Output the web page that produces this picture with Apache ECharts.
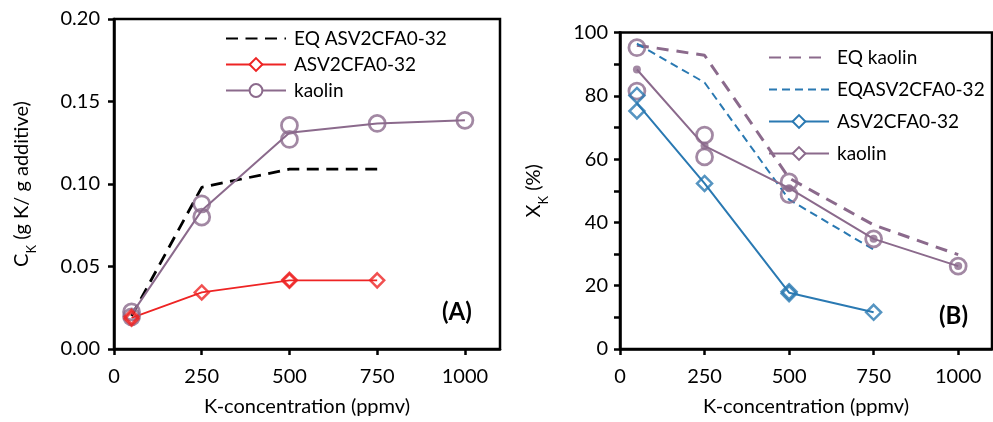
<!DOCTYPE html>
<html><head><meta charset="utf-8">
<script src="https://cdn.jsdelivr.net/npm/echarts@6/dist/echarts.min.js"></script>
<style>html,body{margin:0;padding:0;background:#fff}#c{width:993px;height:422px}</style>
</head><body><div id="c"></div>
<script>
// ---- data ----
const xTickValues = [0, 250, 500, 750, 1000];
const conc = [50, 250, 500, 750, 1000];
// Panel A: C_K (g K / g additive)
const eqAsvA = [0.020, 0.098, 0.109, 0.109];
const asvMeanA = [0.0189, 0.0343, 0.0416, 0.0416];
const asvRepA = [[50, 0.0195], [50, 0.0183], [250, 0.0343], [500, 0.0419], [500, 0.0413], [750, 0.0416]];
const kaoMeanA = [0.021, 0.084, 0.131, 0.1367, 0.1386];
const kaoRepA = [[50, 0.0225], [50, 0.0195], [250, 0.088], [250, 0.080], [500, 0.1355], [500, 0.127], [750, 0.1367], [1000, 0.1386]];
// Panel B: X_K (%)
const eqKaoB = [96, 92.8, 54, 39.2, 29.8];
const eqAsvB = [96.5, 84.2, 47.2, 31.4];
const asvMeanB = [77.7, 52.3, 17.8, 11.6];
const asvRepB = [[50, 80.1], [50, 75.2], [250, 52.3], [500, 18.1], [500, 17.5], [750, 11.6]];
const kaoMeanB = [88.3, 64.2, 50.8, 34.8, 26.2];
const kaoRepB = [[50, 95.2], [50, 81.5], [250, 67.6], [250, 60.7], [500, 52.8], [500, 48.8], [750, 34.8], [1000, 26.2]];
const yTicksB = [0, 10, 20, 30, 40, 50, 60, 70, 80, 90, 100];
const yLabelsB = [0, 20, 40, 60, 80, 100];

const FONT = 'Lato';
const RED = '#ee2424', PURPLE = '#8b6a8c', BLUE = '#2a79b2';
const pair = arr => arr.map((v, i) => [conc[i], v]);

const chart = echarts.init(document.getElementById('c'), null, {renderer: 'canvas'});

const axisCommon = {
  axisLine: {show: true, onZero: false, lineStyle: {color: '#000', width: 2.5}},
  axisTick: {show: true, inside: false, length: 6, lineStyle: {color: '#000', width: 2.5}},
  splitLine: {show: false},
  axisLabel: {color: '#000', fontFamily: FONT, fontSize: 20},
  nameTextStyle: {color: '#000', fontFamily: FONT, fontSize: 20}
};
function xAxis(gi) {
  return Object.assign({}, axisCommon, {
    type: 'value', gridIndex: gi, min: 0, max: 1100,
    name: 'K-concentration (ppmv)', nameLocation: 'middle', nameGap: 48,
    axisTick: Object.assign({}, axisCommon.axisTick, {customValues: xTickValues}),
    axisLabel: Object.assign({}, axisCommon.axisLabel, {customValues: xTickValues, margin: 18, formatter: v => String(v)})
  });
}
const richName = {
  m: {fontFamily: FONT, fontSize: 20, color: '#000', lineHeight: 22, verticalAlign: 'top'},
  s: {fontFamily: FONT, fontSize: 13, color: '#000', lineHeight: 26, verticalAlign: 'bottom'}
};

const option = {
  animation: false,
  backgroundColor: '#fff',
  grid: [
    {left: 114, top: 19, width: 386, height: 332, show: true, borderColor: '#000', borderWidth: 2.5, containLabel: false},
    {left: 620, top: 32.5, width: 372, height: 319.5, show: true, borderColor: '#000', borderWidth: 2.5, containLabel: false}
  ],
  xAxis: [xAxis(0), xAxis(1)],
  yAxis: [
    Object.assign({}, axisCommon, {
      type: 'value', gridIndex: 0, min: 0, max: 0.2, interval: 0.05,
      name: '{m|C}{s|K}{m| (g K/ g additive)}', nameLocation: 'middle', nameGap: 76,
      nameTextStyle: {rich: richName},
      axisLabel: Object.assign({}, axisCommon.axisLabel, {margin: 14, formatter: v => v.toFixed(2)})
    }),
    Object.assign({}, axisCommon, {
      type: 'value', gridIndex: 1, min: 0, max: 100, interval: 20,
      name: '{m|X}{s|K}{m| (%)}', nameLocation: 'middle', nameGap: 70,
      nameTextStyle: {rich: richName},
      axisTick: Object.assign({}, axisCommon.axisTick, {customValues: yTicksB}),
      axisLabel: Object.assign({}, axisCommon.axisLabel, {margin: 12, customValues: yLabelsB})
    })
  ],
  title: [
    {text: '(A)', left: 442, top: 300, padding: 0, textStyle: {fontFamily: FONT, fontSize: 24, fontWeight: 'bold', color: '#000'}},
    {text: '(B)', left: 939, top: 304, padding: 0, textStyle: {fontFamily: FONT, fontSize: 24, fontWeight: 'bold', color: '#000'}}
  ],
  legend: [
    {
      orient: 'vertical', left: 225, top: 29, padding: 0, itemWidth: 60, itemHeight: 16, itemGap: 7,
      textStyle: {fontFamily: FONT, fontSize: 19, color: '#000', padding: [0, 0, 0, 3]},
      selectedMode: false,
      data: [
        {name: 'EQ ASV2CFA0-32', itemStyle: {opacity: 0}},
        {name: 'ASV2CFA0-32'},
        {name: 'kaolin'}
      ]
    },
    {
      orient: 'vertical', left: 768, top: 48, padding: 0, itemWidth: 60, itemHeight: 16, itemGap: 13,
      textStyle: {fontFamily: FONT, fontSize: 19, color: '#000', padding: [0, 0, 0, 3]},
      selectedMode: false,
      formatter: n => n.replace(' (B)', ''),
      data: [
        {name: 'EQ kaolin', itemStyle: {opacity: 0}},
        {name: 'EQASV2CFA0-32', itemStyle: {opacity: 0}},
        {name: 'ASV2CFA0-32 (B)'},
        {name: 'kaolin (B)'}
      ]
    }
  ],
  series: [
    // Panel A
    {name: 'EQ ASV2CFA0-32', type: 'line', xAxisIndex: 0, yAxisIndex: 0, data: pair(eqAsvA),
     symbol: 'none', color: '#000', lineStyle: {color: '#000', width: 2.75, type: [12, 7.5]}, z: 2},
    {name: 'ASV2CFA0-32', type: 'line', xAxisIndex: 0, yAxisIndex: 0, data: pair(asvMeanA),
     symbol: 'emptyDiamond', showSymbol: false, color: RED, lineStyle: {color: RED, width: 1.75}, z: 3},
    {name: 'kaolin', type: 'line', xAxisIndex: 0, yAxisIndex: 0, data: pair(kaoMeanA),
     symbol: 'emptyCircle', showSymbol: false, color: PURPLE, lineStyle: {color: PURPLE, width: 2}, z: 3},
    {name: 'ASV2CFA0-32 pts', type: 'scatter', xAxisIndex: 0, yAxisIndex: 0, data: asvRepA,
     symbol: 'diamond', symbolSize: 14, itemStyle: {color: 'rgba(0,0,0,0)', borderColor: RED, borderWidth: 2.5}, z: 5},
    {name: 'kaolin pts', type: 'scatter', xAxisIndex: 0, yAxisIndex: 0, data: kaoRepA,
     symbol: 'circle', symbolSize: 16, itemStyle: {color: 'rgba(0,0,0,0)', borderColor: PURPLE, borderWidth: 2.75}, z: 4},
    // Panel B
    {name: 'EQ kaolin', type: 'line', xAxisIndex: 1, yAxisIndex: 1, data: pair(eqKaoB),
     symbol: 'none', color: PURPLE, lineStyle: {color: PURPLE, width: 3, type: [12, 8]}, z: 2},
    {name: 'EQASV2CFA0-32', type: 'line', xAxisIndex: 1, yAxisIndex: 1, data: pair(eqAsvB),
     symbol: 'none', color: BLUE, lineStyle: {color: BLUE, width: 2, type: [8, 5]}, z: 2},
    {name: 'ASV2CFA0-32 (B)', type: 'line', xAxisIndex: 1, yAxisIndex: 1, data: pair(asvMeanB),
     symbol: 'emptyDiamond', showSymbol: false, color: BLUE, lineStyle: {color: BLUE, width: 2}, z: 3},
    {name: 'kaolin (B)', type: 'line', xAxisIndex: 1, yAxisIndex: 1, data: pair(kaoMeanB),
     symbol: 'emptyDiamond', showSymbol: false, color: PURPLE, lineStyle: {color: PURPLE, width: 2}, z: 3},
    {name: 'kaolin (B) mean', type: 'scatter', xAxisIndex: 1, yAxisIndex: 1, data: pair(kaoMeanB),
     symbol: 'circle', symbolSize: 8, itemStyle: {color: PURPLE}, z: 3},
    {name: 'ASV2CFA0-32 (B) pts', type: 'scatter', xAxisIndex: 1, yAxisIndex: 1, data: asvRepB,
     symbol: 'diamond', symbolSize: 15, itemStyle: {color: 'rgba(0,0,0,0)', borderColor: BLUE, borderWidth: 2.5}, z: 5},
    {name: 'kaolin (B) pts', type: 'scatter', xAxisIndex: 1, yAxisIndex: 1, data: kaoRepB,
     symbol: 'circle', symbolSize: 16, itemStyle: {color: 'rgba(0,0,0,0)', borderColor: PURPLE, borderWidth: 2.75}, z: 4}
  ]
};
chart.setOption(option);
</script>
</body></html>
